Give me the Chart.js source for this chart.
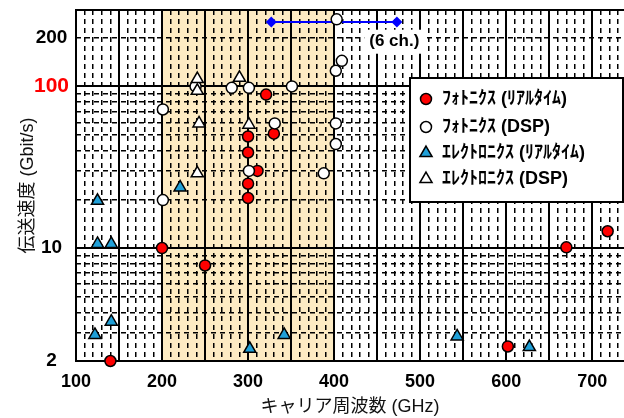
<!DOCTYPE html>
<html><head><meta charset="utf-8">
<script src="https://cdn.jsdelivr.net/npm/chart.js@4.4.0/dist/chart.umd.min.js"></script>
<style>html,body{margin:0;padding:0;background:#fff}canvas{display:block}</style>
</head><body>
<canvas id="c" width="624" height="418"></canvas>
<script>
// ---- data (carrier frequency GHz, rate Gbit/s) ----
const photonicsRealtime = [[140,2],[200,10],[250,7.8],[300,49],[300,39],[311,30],[300,25],[300,20.4],[321,89],[330,51],[602,2.46],[670,10.1],[718,12.7]];
const photonicsDSP = [[403,260],[409,144],[402,125],[281,98],[301,98],[351,100],[331,59],[402,59],[402,44],[301,30],[388,29],[201,72],[201,19.8],[239,100]];
const electronicsRealtime = [[125,19.6],[125,10.6],[141,10.6],[141,3.5],[122,2.9],[221,23.7],[302,2.38],[342,2.9],[543,2.84],[627,2.44]];
const electronicsDSP = [[241,111],[241,94],[243,59],[241,29],[290,113],[301,58]];
const sixChannelSpan = [[327,250],[473,250]];
const seriesLabels = ['ﾌｫﾄﾆｸｽ (ﾘｱﾙﾀｲﾑ)','ﾌｫﾄﾆｸｽ (DSP)','ｴﾚｸﾄﾛﾆｸｽ (ﾘｱﾙﾀｲﾑ)','ｴﾚｸﾄﾛﾆｸｽ (DSP)'];
const annotation = {text:'(6 ch.)', x:470, y:189};
const xTickLabels = [100,200,300,400,500,600,700];
const yTickLabels = [2,10,100,200];
const yMajorGrid = [10,100];
const yMinorGrid = [3,4,5,6,7,8,9,20,30,40,50,60,70,80,90,200];
const xRange = [100,737];
const yRange = [2,297];
const shadedBand = [200,400];
const xTitle = 'キャリア周波数 (GHz)';
const yTitle = '伝送速度 (Gbit/s)';

const xMajorGrid = []; for (let v = 100; v <= 700; v += 50) xMajorGrid.push(v);
const xMinorGrid = []; for (let v = 110; v < xRange[1]; v += 10) if (v % 50 !== 0) xMinorGrid.push(v);

const pts = a => a.map(([x,y]) => ({x,y}));
const FONT = '"Liberation Sans", "Noto Sans CJK JP", sans-serif';

const styles = [
  {pointStyle:'circle', pointRadius:5.5, bg:'#ff0000'},
  {pointStyle:'circle', pointRadius:5.5, bg:'#ffffff'},
  {pointStyle:'triangle', pointRadius:7, bg:'#20a0d8'},
  {pointStyle:'triangle', pointRadius:7, bg:'#ffffff'}
];
const seriesData = [photonicsRealtime, photonicsDSP, electronicsRealtime, electronicsDSP];
const orders = [3,2,1,0];

const datasets = seriesData.map((d,i) => ({
  label: seriesLabels[i], data: pts(d), pointStyle: styles[i].pointStyle,
  pointRadius: styles[i].pointRadius, pointBackgroundColor: styles[i].bg,
  pointBorderColor:'#000', pointBorderWidth:1.5, clip:false, order: orders[i]
}));
datasets.push({label:'', data: pts(sixChannelSpan), showLine:true, borderColor:'#0000ff', borderWidth:2,
  pointStyle:'rectRot', pointRadius:5.5, pointBackgroundColor:'#0000ff', pointBorderColor:'#0000ff', pointBorderWidth:0, clip:false, order:10});

const noPad = s => { s.paddingTop = 0; s.paddingBottom = 0; s.paddingLeft = 0; s.paddingRight = 0; };

const bandPlugin = {id:'band', beforeDraw(chart){
  const {ctx, chartArea:a, scales:{x}} = chart;
  const x1 = x.getPixelForValue(shadedBand[0]), x2 = x.getPixelForValue(shadedBand[1]);
  ctx.save(); ctx.fillStyle = '#fdebc3'; ctx.fillRect(x1, a.top, x2-x1, a.bottom-a.top); ctx.restore();
}};
const framePlugin = {id:'frame', beforeDatasetsDraw(chart){
  const {ctx, chartArea:a} = chart;
  ctx.save(); ctx.strokeStyle='#000'; ctx.lineWidth=2;
  ctx.beginPath(); ctx.moveTo(a.left, a.top); ctx.lineTo(a.right, a.top); ctx.stroke(); ctx.restore();
}};
function drawMarker(ctx, st, x, y){
  ctx.fillStyle = st.bg; ctx.strokeStyle = '#000'; ctx.lineWidth = 1.5;
  if (Chart.helpers && Chart.helpers.drawPoint) {
    Chart.helpers.drawPoint(ctx, {pointStyle:st.pointStyle, rotation:0, radius:st.pointRadius, borderWidth:1.5}, x, y);
  }
}
const legendPlugin = {id:'customLegend', afterDraw(chart){
  const {ctx, scales:{x,y}} = chart;
  ctx.save();
  const ax = x.getPixelForValue(annotation.x), ay = y.getPixelForValue(annotation.y);
  ctx.font = 'bold 17px ' + FONT; ctx.textAlign='center'; ctx.textBaseline='middle';
  const w = ctx.measureText(annotation.text).width;
  ctx.fillStyle='#fff'; ctx.fillRect(ax - w/2 - 5, ay - 12, w + 10, 24);
  ctx.fillStyle='#000'; ctx.fillText(annotation.text, ax, ay);
  const bx = 410, by = 78, bw = 213, bh = 124;
  ctx.fillStyle='#fff'; ctx.fillRect(bx,by,bw,bh);
  ctx.strokeStyle='#000'; ctx.lineWidth=2; ctx.strokeRect(bx,by,bw,bh);
  const rows = [99,127,153,179];
  seriesLabels.forEach((lab,i) => {
    drawMarker(ctx, styles[i], 426, rows[i]);
    ctx.fillStyle='#000'; ctx.font='bold 18px ' + FONT; ctx.textAlign='left'; ctx.textBaseline='middle';
    ctx.fillText(lab, 442, rows[i]);
  });
  ctx.restore();
}};

new Chart(document.getElementById('c'), {
  type:'scatter',
  data:{datasets},
  plugins:[bandPlugin, framePlugin, legendPlugin],
  options:{
    responsive:false, animation:false, devicePixelRatio:1, events:[],
    layout:{autoPadding:false, padding:{top:10,left:0,right:0,bottom:0}},
    plugins:{legend:{display:false}, tooltip:{enabled:false}},
    scales:{
      x:{type:'linear', position:'bottom', min:xRange[0], max:xRange[1],
        afterBuildTicks: s => { s.ticks = xMajorGrid.map(v => ({value:v})); },
        grid:{color:'#000', lineWidth:2, drawTicks:false},
        border:{display:true, color:'#000', width:2},
        ticks:{autoSkip:false, maxRotation:0, padding:10, color:'#000',
          font:{family:FONT, size:18, weight:'bold'},
          callback: v => xTickLabels.includes(v) ? String(v) : ''},
        title:{display:true, text:xTitle, color:'#111', font:{family:FONT, size:18}, padding:{top:0,bottom:0}},
        afterFit: s => { s.height = 57; noPad(s); }
      },
      x2:{type:'linear', position:'bottom', min:xRange[0], max:xRange[1],
        afterBuildTicks: s => { s.ticks = xMinorGrid.map(v => ({value:v})); },
        grid:{color:'#000', lineWidth:1.5, drawTicks:false},
        border:{display:false, dash:[5,4]},
        ticks:{display:false}, afterFit: s => { s.height = 0; noPad(s); }
      },
      y:{type:'logarithmic', position:'left', min:yRange[0], max:yRange[1],
        afterBuildTicks: s => { s.ticks = yTickLabels.map(v => ({value:v})); },
        grid:{color: c => (c.tick && yMajorGrid.includes(c.tick.value)) ? '#000' : 'rgba(0,0,0,0)', lineWidth:2, drawTicks:false},
        border:{display:true, color:'#000', width:2},
        ticks:{autoSkip:false, padding:7, crossAlign:'center',
          color: c => (c.tick && c.tick.value === 100) ? '#ff0000' : '#000',
          font: c => ({family:FONT, size:(c.tick && c.tick.value === 100) ? 21 : 19, weight:'bold'}),
          callback: v => yTickLabels.includes(v) ? String(v) : ''},
        title:{display:true, text:yTitle, color:'#111', font:{family:FONT, size:18}, padding:{top:17,bottom:0}},
        afterFit: s => { s.width = 76; noPad(s); }
      },
      y2:{type:'logarithmic', position:'left', min:yRange[0], max:yRange[1],
        afterBuildTicks: s => { s.ticks = yMinorGrid.map(v => ({value:v})); },
        grid:{color:'#000', lineWidth:1.5, drawTicks:false},
        border:{display:false, dash:[5,4]},
        ticks:{display:false}, afterFit: s => { s.width = 0; noPad(s); }
      }
    }
  }
});
</script>
</body></html>
